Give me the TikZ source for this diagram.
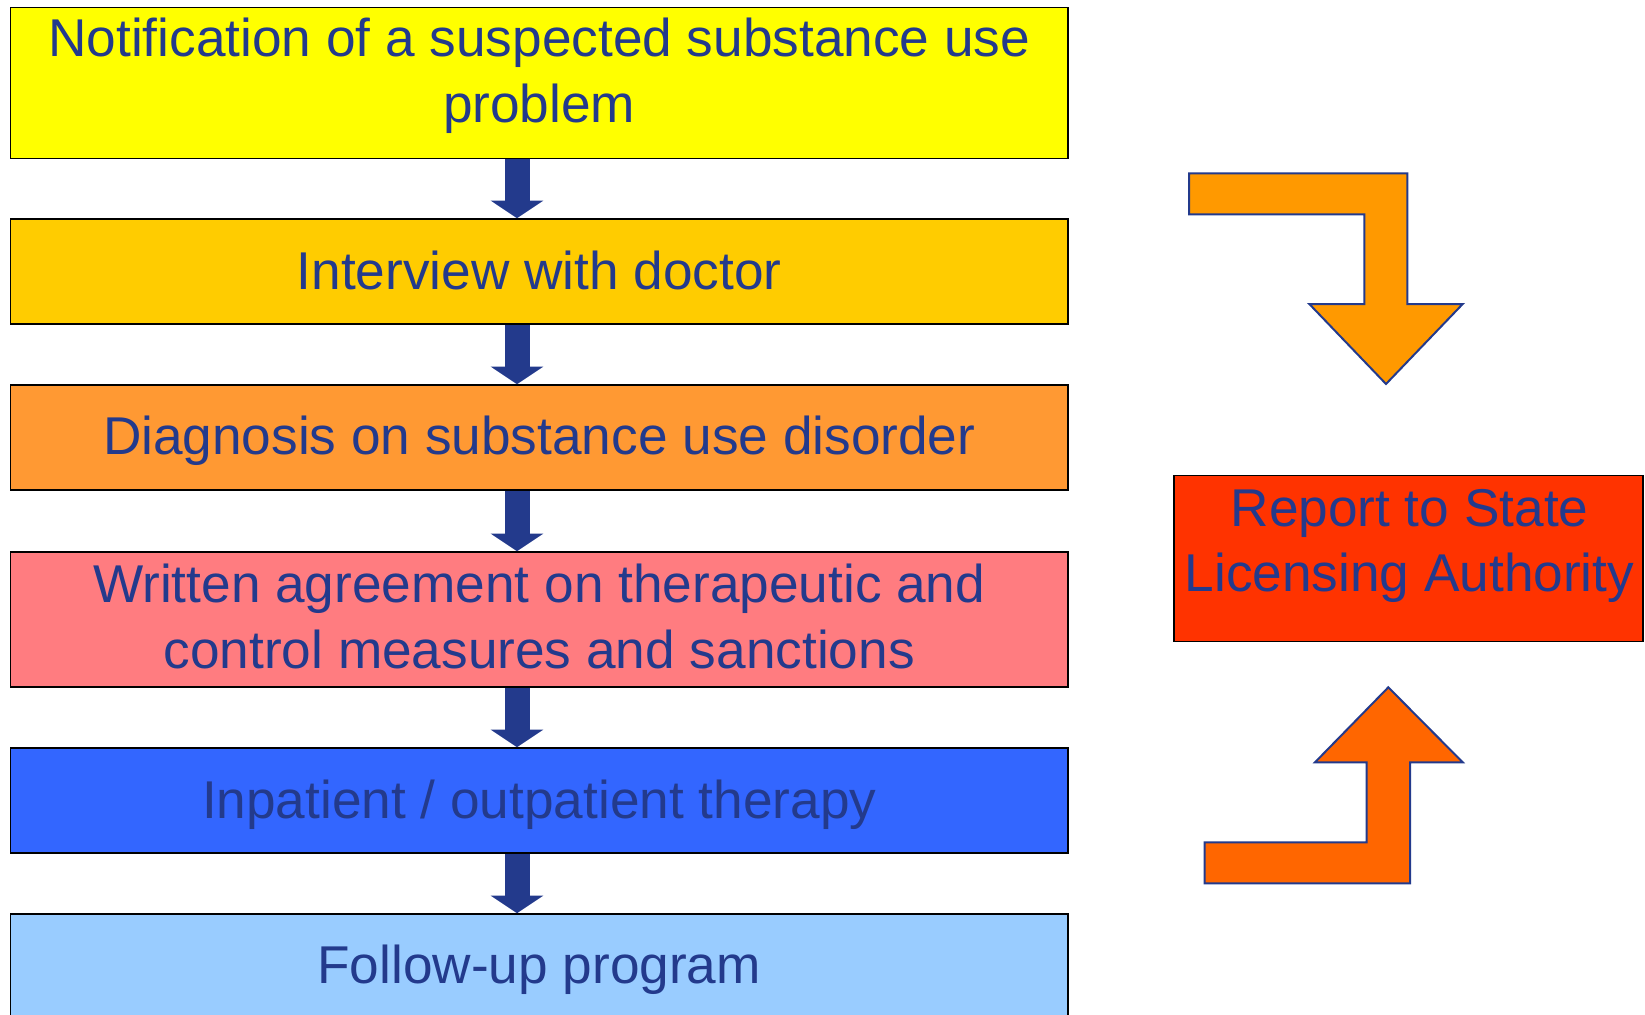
\documentclass[tikz,border=0pt]{standalone}
\usepackage{fontspec}
\setmainfont{Liberation Sans}
\usetikzlibrary{arrows.meta}
\definecolor{txtblue}{HTML}{233A8C}
\definecolor{c1}{HTML}{FFFF00}
\definecolor{c2}{HTML}{FFCC00}
\definecolor{c3}{HTML}{FF9933}
\definecolor{c4}{HTML}{FF7C80}
\definecolor{c5}{HTML}{3366FF}
\definecolor{c6}{HTML}{99CCFF}
\definecolor{crep}{HTML}{FF3300}
\definecolor{bentA}{HTML}{FF9900}
\definecolor{bentB}{HTML}{FF6600}
\tikzset{
  box/.style={draw=black, line width=1.5pt, rectangle, inner sep=0pt},
  stepbox/.style={box, minimum width=1057.5pt},
  lbl/.style={text=txtblue, font=\fontsize{53.2pt}{65pt}\selectfont, align=center, inner sep=0pt, anchor=base},
  downarr/.style={draw=txtblue, line width=25pt, -{Triangle[length=17.6pt,width=51.7pt]}},
  bent/.style={draw=txtblue, line width=2pt, line join=miter}
}
\begin{document}
\begin{tikzpicture}[x=1pt,y=-1pt]
\useasboundingbox (0,0) rectangle (1645,1014);
\begin{scope}
\clip (0,0) rectangle (1645,1014);
\node[stepbox, fill=c1, minimum height=151pt] (b1) at (539.2,82.85) {};
\node[stepbox, fill=c2, minimum height=105pt] (b2) at (539.2,271.5) {};
\node[stepbox, fill=c3, minimum height=105pt] (b3) at (539.2,437.5) {};
\node[stepbox, fill=c4, minimum height=135pt] (b4) at (539.2,619.5) {};
\node[stepbox, fill=c5, minimum height=105pt] (b5) at (539.2,800.5) {};
\node[stepbox, fill=c6, minimum height=105pt] (b6) at (539.2,966.5) {};
\end{scope}
\node[box, fill=crep, minimum width=469pt, minimum height=166pt] (rep) at (1408.5,558.7) {};

% anchor=base of a multi-line label is the baseline of its last line
\node[lbl, font=\fontsize{53.2pt}{66pt}\selectfont] (t1) at (539.2,122.7) {Notification of a suspected substance use\\problem};
\node[lbl] (t2) at (539.2,289) {Interview with doctor};
\node[lbl] (t3) at (539.2,454.3) {Diagnosis on substance use disorder};
\node[lbl, font=\fontsize{53.2pt}{66pt}\selectfont] (t4) at (539.2,668) {Written agreement on therapeutic and\\control measures and sanctions};
\node[lbl] (t5) at (539.2,818.3) {Inpatient / outpatient therapy};
\node[lbl] (t6) at (539.2,983.3) {Follow-up program};
\node[lbl] (trep) at (1409.5,591) {Report to State\\Licensing Authority};

\coordinate (ax) at (517,0);
\draw[downarr] (b1.south -| ax) -- (b2.north -| ax);
\draw[downarr] (b2.south -| ax) -- (b3.north -| ax);
\draw[downarr] (b3.south -| ax) -- (b4.north -| ax);
\draw[downarr] (b4.south -| ax) -- (b5.north -| ax);
\draw[downarr] (b5.south -| ax) -- (b6.north -| ax);

\draw[bent, fill=bentA] (1189,173.3) -- (1407.3,173.3) -- (1407.3,304) -- (1462.7,304)
  -- (1386,384) -- (1309.3,304) -- (1364.3,304) -- (1364.3,214.3) -- (1189,214.3) -- cycle;
\draw[bent, fill=bentB] (1388.3,687.3) -- (1462.7,762.3) -- (1410,762.3) -- (1410,883.3)
  -- (1204.7,883.3) -- (1204.7,842.3) -- (1366.7,842.3) -- (1366.7,762.3) -- (1315,762.3) -- cycle;
\end{tikzpicture}
\end{document}
